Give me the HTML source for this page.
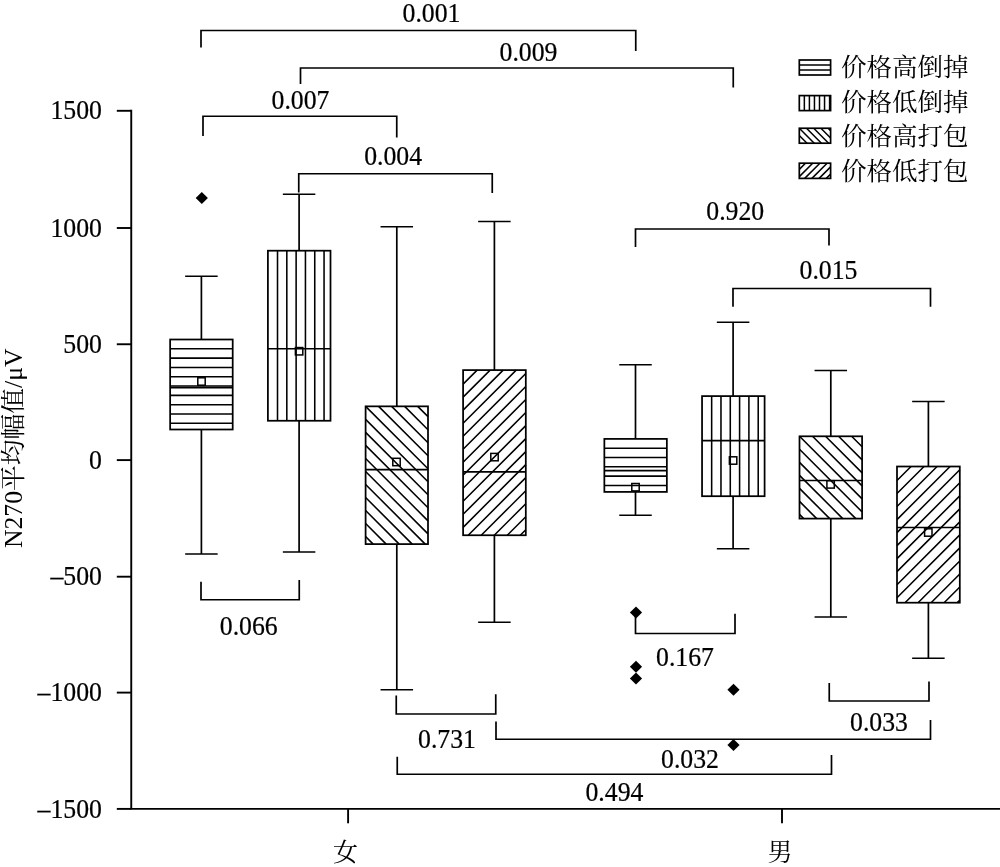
<!DOCTYPE html>
<html lang="zh"><head><meta charset="utf-8"><title>N270</title>
<style>html,body{margin:0;padding:0;background:#fff}body{width:1000px;height:867px;overflow:hidden}svg{display:block}text{font-family:"Liberation Serif","Noto Serif CJK SC",serif;font-size:25px;fill:#000}.n{stroke:#000;stroke-width:.22px}.lg{font-size:25.5px}</style>
</head><body>
<svg width="1000" height="867" viewBox="0 0 1000 867">
<rect width="1000" height="867" fill="#fff"/>
<g transform="translate(0.5 0.5)">
<g stroke="#000" stroke-width="1.9" fill="none" stroke-linecap="butt">
<path d="M130.75 109.35 V808.4 H1000"/>
<path d="M116.3 110.3 H130.75"/>
<path d="M116.3 227.5 H130.75"/>
<path d="M116.3 343.75 H130.75"/>
<path d="M116.3 459.6 H130.75"/>
<path d="M116.3 576.2 H130.75"/>
<path d="M116.3 692.1 H130.75"/>
<path d="M116.3 808.4 H130.75"/>
<path d="M347.6 808.4 V822.8"/>
<path d="M781.5 808.4 V822.8"/>
</g>
<g text-anchor="end">
<text class="n" transform="translate(101.4 118.9) scale(1.03 1.065)">1500</text>
<text class="n" transform="translate(101.4 236.1) scale(1.03 1.065)">1000</text>
<text class="n" transform="translate(101.4 352.35) scale(1.03 1.065)">500</text>
<text class="n" transform="translate(101.4 468.2) scale(1.03 1.065)">0</text>
<text class="n" transform="translate(101.4 584.8) scale(1.03 1.065)">–500</text>
<text class="n" transform="translate(101.4 700.7) scale(1.03 1.065)">–1000</text>
<text class="n" transform="translate(101.4 817) scale(1.03 1.065)">–1500</text>
</g>
<text x="345" y="860.9" text-anchor="middle">女</text>
<text x="779.5" y="860.2" text-anchor="middle">男</text>
<text transform="translate(21.9 547.6) rotate(-90) scale(1.03 1)">N270平均幅值/μV</text>
<g stroke="#000" fill="none">
<path stroke-width="1.7" d="M200.9 275.75 V339 M200.9 429 V553.5 M184.65 275.75 H217.15 M184.65 553.5 H217.15"/>
<path stroke-width="1.55" d="M169.65 348.31 L232.2 348.31 M169.65 357.62 L232.2 357.62 M169.65 366.93 L232.2 366.93 M169.65 376.24 L232.2 376.24 M169.65 385.55 L232.2 385.55 M169.65 394.86 L232.2 394.86 M169.65 404.17 L232.2 404.17 M169.65 413.48 L232.2 413.48 M169.65 422.79 L232.2 422.79"/>
<rect stroke-width="1.75" x="169.65" y="339" width="62.55" height="90"/>
<path stroke-width="1.7" d="M169.65 387.2 H232.2"/>
<rect stroke-width="1.5" x="197.3" y="377.3" width="7.4" height="7.4"/>
</g>
<g stroke="#000" fill="none">
<path stroke-width="1.7" d="M298.6 193.75 V250.2 M298.6 420.25 V551.5 M282.35 193.75 H314.85 M282.35 551.5 H314.85"/>
<path stroke-width="1.55" d="M277.01 250.2 L277.01 420.25 M286.32 250.2 L286.32 420.25 M295.63 250.2 L295.63 420.25 M304.94 250.2 L304.94 420.25 M314.25 250.2 L314.25 420.25 M323.56 250.2 L323.56 420.25"/>
<rect stroke-width="1.75" x="267.4" y="250.2" width="62.6" height="170.05"/>
<path stroke-width="1.7" d="M267.4 348.25 H330"/>
<rect stroke-width="1.5" x="294.9" y="347.05" width="7.4" height="7.4"/>
</g>
<g stroke="#000" fill="none">
<path stroke-width="1.7" d="M396.3 226.25 V405.85 M396.3 543.6 V689.25 M380.05 226.25 H412.55 M380.05 689.25 H412.55"/>
<path stroke-width="1.55" d="M417.18 405.85 L427.5 416.17 M404.16 405.85 L427.5 429.19 M391.14 405.85 L427.5 442.21 M378.12 405.85 L427.5 455.23 M365.1 405.85 L427.5 468.25 M365.1 418.87 L427.5 481.27 M365.1 431.89 L427.5 494.29 M365.1 444.91 L427.5 507.31 M365.1 457.93 L427.5 520.33 M365.1 470.95 L427.5 533.35 M365.1 483.97 L424.73 543.6 M365.1 496.99 L411.71 543.6 M365.1 510.01 L398.69 543.6 M365.1 523.03 L385.67 543.6 M365.1 536.05 L372.65 543.6"/>
<rect stroke-width="1.75" x="365.1" y="405.85" width="62.4" height="137.75"/>
<path stroke-width="1.7" d="M365.1 469.05 H427.5"/>
<rect stroke-width="1.5" x="392.3" y="457.8" width="7.4" height="7.4"/>
</g>
<g stroke="#000" fill="none">
<path stroke-width="1.7" d="M493.9 221 V369.6 M493.9 534.75 V621.75 M477.65 221 H510.15 M477.65 621.75 H510.15"/>
<path stroke-width="1.55" d="M462.6 383.62 L476.62 369.6 M462.6 396.64 L489.64 369.6 M462.6 409.66 L502.66 369.6 M462.6 422.68 L515.68 369.6 M462.6 435.7 L525.3 373 M462.6 448.72 L525.3 386.02 M462.6 461.74 L525.3 399.04 M462.6 474.76 L525.3 412.06 M462.6 487.78 L525.3 425.08 M462.6 500.8 L525.3 438.1 M462.6 513.82 L525.3 451.12 M462.6 526.84 L525.3 464.14 M467.71 534.75 L525.3 477.16 M480.73 534.75 L525.3 490.18 M493.75 534.75 L525.3 503.2 M506.77 534.75 L525.3 516.22 M519.79 534.75 L525.3 529.24"/>
<rect stroke-width="1.75" x="462.6" y="369.6" width="62.7" height="165.15"/>
<path stroke-width="1.7" d="M462.6 471.3 H525.3"/>
<rect stroke-width="1.5" x="490.3" y="452.9" width="7.4" height="7.4"/>
</g>
<g stroke="#000" fill="none">
<path stroke-width="1.7" d="M635 364.25 V438.4 M635 491.4 V514.75 M618.75 364.25 H651.25 M618.75 514.75 H651.25"/>
<path stroke-width="1.55" d="M603.85 447.71 L666.35 447.71 M603.85 457.02 L666.35 457.02 M603.85 466.33 L666.35 466.33 M603.85 475.64 L666.35 475.64 M603.85 484.95 L666.35 484.95"/>
<rect stroke-width="1.75" x="603.85" y="438.4" width="62.5" height="53"/>
<path stroke-width="1.7" d="M603.85 470.15 H666.35"/>
<rect stroke-width="1.5" x="631.3" y="483" width="7.4" height="7.4"/>
</g>
<g stroke="#000" fill="none">
<path stroke-width="1.7" d="M732.6 321.75 V395.6 M732.6 495.7 V548.25 M716.35 321.75 H748.85 M716.35 548.25 H748.85"/>
<path stroke-width="1.55" d="M711.16 395.6 L711.16 495.7 M720.47 395.6 L720.47 495.7 M729.78 395.6 L729.78 495.7 M739.09 395.6 L739.09 495.7 M748.4 395.6 L748.4 495.7 M757.71 395.6 L757.71 495.7"/>
<rect stroke-width="1.75" x="701.55" y="395.6" width="62.55" height="100.1"/>
<path stroke-width="1.7" d="M701.55 440.1 H764.1"/>
<rect stroke-width="1.5" x="728.9" y="456.3" width="7.4" height="7.4"/>
</g>
<g stroke="#000" fill="none">
<path stroke-width="1.7" d="M830.3 370 V435.8 M830.3 518.1 V616.5 M814.05 370 H846.55 M814.05 616.5 H846.55"/>
<path stroke-width="1.55" d="M851.08 435.8 L861.6 446.32 M838.06 435.8 L861.6 459.34 M825.04 435.8 L861.6 472.36 M812.02 435.8 L861.6 485.38 M799 435.8 L861.6 498.4 M799 448.82 L861.6 511.42 M799 461.84 L855.26 518.1 M799 474.86 L842.24 518.1 M799 487.88 L829.22 518.1 M799 500.9 L816.2 518.1 M799 513.92 L803.18 518.1"/>
<rect stroke-width="1.75" x="799" y="435.8" width="62.6" height="82.3"/>
<path stroke-width="1.7" d="M799 480 H861.6"/>
<rect stroke-width="1.5" x="826.4" y="480.2" width="7.4" height="7.4"/>
</g>
<g stroke="#000" fill="none">
<path stroke-width="1.7" d="M927.9 401 V466 M927.9 602.2 V657.75 M911.65 401 H944.15 M911.65 657.75 H944.15"/>
<path stroke-width="1.55" d="M896.5 480.02 L910.52 466 M896.5 493.04 L923.54 466 M896.5 506.06 L936.56 466 M896.5 519.08 L949.58 466 M896.5 532.1 L959.3 469.3 M896.5 545.12 L959.3 482.32 M896.5 558.14 L959.3 495.34 M896.5 571.16 L959.3 508.36 M896.5 584.18 L959.3 521.38 M896.5 597.2 L959.3 534.4 M904.52 602.2 L959.3 547.42 M917.54 602.2 L959.3 560.44 M930.56 602.2 L959.3 573.46 M943.58 602.2 L959.3 586.48 M956.6 602.2 L959.3 599.5"/>
<rect stroke-width="1.75" x="896.5" y="466" width="62.8" height="136.2"/>
<path stroke-width="1.7" d="M896.5 527 H959.3"/>
<rect stroke-width="1.5" x="924.1" y="528.3" width="7.4" height="7.4"/>
</g>
<g fill="#000">
<path d="M201.3 191.4 L207.4 197.5 L201.3 203.6 L195.2 197.5Z"/>
<path d="M635.5 605.9 L641.6 612 L635.5 618.1 L629.4 612Z"/>
<path d="M635.5 660.15 L641.6 666.25 L635.5 672.35 L629.4 666.25Z"/>
<path d="M635.5 671.9 L641.6 678 L635.5 684.1 L629.4 678Z"/>
<path d="M733 683.15 L739.1 689.25 L733 695.35 L726.9 689.25Z"/>
<path d="M733 738.4 L739.1 744.5 L733 750.6 L726.9 744.5Z"/>
</g>
<g stroke="#000" stroke-width="1.7" fill="none" stroke-linejoin="miter">
<path d="M200.5 47 V30 H635.25 V50.5"/>
<path d="M300 83.5 V67.5 H732.75 V87"/>
<path d="M202.5 135.5 V115.75 H396.25 V137"/>
<path d="M298.25 192 V173.25 H491.75 V192.5"/>
<path d="M635 246.5 V228.5 H828.5 V245"/>
<path d="M732.5 306.25 V288 H930 V306.25"/>
<path d="M200.5 581.25 V599.25 H298.75 V579.5"/>
<path d="M395.75 695 V713.5 H495.25 V693.75"/>
<path d="M635 612 V633 H734.5 V613.25"/>
<path d="M828.75 682.5 V700.5 H928.5 V681"/>
<path d="M495.5 721 V738.75 H930 V719.5"/>
<path d="M396.75 756.25 V773.75 H831 V754.5"/>
</g>
<g text-anchor="middle">
<text class="n" transform="translate(431 21.7) scale(1.03 1.065)">0.001</text>
<text class="n" transform="translate(528 60.7) scale(1.03 1.065)">0.009</text>
<text class="n" transform="translate(300 108.2) scale(1.03 1.065)">0.007</text>
<text class="n" transform="translate(392.6 164.7) scale(1.03 1.065)">0.004</text>
<text class="n" transform="translate(734.75 219.7) scale(1.03 1.065)">0.920</text>
<text class="n" transform="translate(828 278.45) scale(1.03 1.065)">0.015</text>
<text class="n" transform="translate(248.25 634.7) scale(1.03 1.065)">0.066</text>
<text class="n" transform="translate(446.5 747.2) scale(1.03 1.065)">0.731</text>
<text class="n" transform="translate(684.5 665.2) scale(1.03 1.065)">0.167</text>
<text class="n" transform="translate(878.5 730.2) scale(1.03 1.065)">0.033</text>
<text class="n" transform="translate(689.5 767.2) scale(1.03 1.065)">0.032</text>
<text class="n" transform="translate(613.9 800.95) scale(1.03 1.065)">0.494</text>
</g>
<g transform="translate(-0.5 -0.5)">
<g stroke="#000" fill="none">
<path stroke-width="1.5" d="M799.3 65.05 L830.6 65.05 M799.3 70.1 L830.6 70.1"/>
<rect stroke-width="1.7" x="799.3" y="60" width="31.3" height="15"/>
</g>
<text class="lg" x="841" y="76.3">价格高倒掉</text>
<g stroke="#000" fill="none">
<path stroke-width="1.5" d="M804.35 95.6 L804.35 110.6 M809.4 95.6 L809.4 110.6 M814.45 95.6 L814.45 110.6 M819.5 95.6 L819.5 110.6 M824.55 95.6 L824.55 110.6 M829.6 95.6 L829.6 110.6"/>
<rect stroke-width="1.7" x="799.3" y="95.6" width="31.3" height="15"/>
</g>
<text class="lg" x="841" y="111.1">价格低倒掉</text>
<g stroke="#000" fill="none">
<path stroke-width="1.5" d="M828.1 128.25 L830.6 130.75 M820.9 128.25 L830.6 137.95 M813.7 128.25 L828.65 143.2 M806.5 128.25 L821.45 143.2 M799.3 128.25 L814.25 143.2 M799.3 135.45 L807.05 143.2 M799.3 142.65 L799.85 143.2"/>
<rect stroke-width="1.7" x="799.3" y="128.25" width="31.3" height="14.95"/>
</g>
<text class="lg" x="841" y="145.12">价格高打包</text>
<g stroke="#000" fill="none">
<path stroke-width="1.5" d="M799.3 169.4 L805.5 163.2 M799.3 176.6 L812.7 163.2 M804.7 178.4 L819.9 163.2 M811.9 178.4 L827.1 163.2 M819.1 178.4 L830.6 166.9 M826.3 178.4 L830.6 174.1"/>
<rect stroke-width="1.7" x="799.3" y="163.2" width="31.3" height="15.2"/>
</g>
<text class="lg" x="841" y="180.05">价格低打包</text>
</g>
</g>
</svg>
</body></html>
